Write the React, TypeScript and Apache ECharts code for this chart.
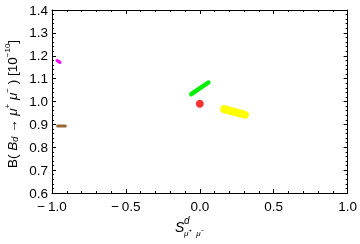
import React, { useEffect, useRef } from "react";
import * as echarts from "echarts";

const xTicks = [-1.0, -0.5, 0.0, 0.5, 1.0];
const yTicks = [0.6, 0.7, 0.8, 0.9, 1.0, 1.1, 1.2, 1.3, 1.4];

const magentaX = [-0.966, -0.946];
const magentaY = [1.179, 1.171];
const brownX = [-0.962, -0.91];
const brownY = [0.893, 0.893];
const greenX = [-0.058, 0.058];
const greenY = [1.032, 1.083];
const yellowX = [0.165, 0.305];
const yellowY = [0.967, 0.942];
const redX = [0.0];
const redY = [0.99];

const zip = (xs: number[], ys: number[]) => xs.map((x, i) => [x, ys[i]]);
const fmt = (v: number) => (v < -1e-9 ? "\u2212\u2009" : "") + Math.abs(v).toFixed(1);
const FONT = "Liberation Sans";

type Piece = { t: string; size: number; italic?: boolean; dy?: number };

let ctx: CanvasRenderingContext2D | null = null;
function measure(p: Piece) {
  if (!ctx) ctx = document.createElement("canvas").getContext("2d");
  if (!ctx) return p.t.length * p.size * 0.55;
  ctx.font = `${p.italic ? "italic " : ""}${p.size}px "${FONT}"`;
  return ctx.measureText(p.t).width;
}

function buildPieces(pieces: Piece[], centered: boolean) {
  const widths = pieces.map(measure);
  const total = widths.reduce((a, b) => a + b, 0);
  let x = centered ? -total / 2 : 0;
  return pieces.map((p, i) => {
    const el = {
      type: "text",
      x,
      y: p.dy || 0,
      style: {
        text: p.t,
        fontFamily: FONT,
        fontSize: p.size,
        fontStyle: p.italic ? "italic" : "normal",
        fill: "#000",
        align: "left",
        verticalAlign: "middle",
      },
    };
    x += widths[i];
    return el;
  });
}

const yLabelPieces: Piece[] = [
  { t: "B( ", size: 13.5 },
  { t: "B", size: 13.5, italic: true },
  { t: "d", size: 9, italic: true, dy: 3 },
  { t: " \u2192 ", size: 13.5 },
  { t: "\u03bc", size: 13.5, italic: true },
  { t: "+", size: 8, dy: -5 },
  { t: " ", size: 13.5 },
  { t: "\u03bc", size: 13.5, italic: true },
  { t: "\u2212", size: 8, dy: -5 },
  { t: " ) [10", size: 13.5 },
  { t: "\u221210", size: 8, dy: -5 },
  { t: "]", size: 13.5 },
];

const xLabelPieces: Piece[] = [{ t: "S", size: 14, italic: true }];
const xSupPieces: Piece[] = [{ t: "d", size: 10, italic: true }];
const xSubPieces: Piece[] = [
  { t: "\u03bc", size: 8, italic: true },
  { t: "+", size: 6, dy: -3 },
  { t: "  ", size: 8 },
  { t: "\u03bc", size: 8, italic: true },
  { t: "\u2212", size: 6, dy: -3 },
];

export default function App() {
  const ref = useRef<HTMLDivElement>(null);
  useEffect(() => {
    if (!ref.current) return;
    const chart = echarts.init(ref.current, undefined, { renderer: "svg" });
    const axisCommon = {
      axisLine: { show: true, onZero: false, lineStyle: { color: "#000", width: 1 } },
      axisTick: { show: true, inside: true, length: 4, lineStyle: { color: "#000" } },
      minorTick: { show: true, splitNumber: 5, length: 2, lineStyle: { color: "#000" } },
      splitLine: { show: false },
    };
    const lineSeries = (xs: number[], ys: number[], color: string, width: number) => ({
      type: "line",
      data: zip(xs, ys),
      showSymbol: false,
      symbol: "none",
      lineStyle: { color, width, cap: "round" },
      silent: true,
    });
    chart.setOption({
      animation: false,
      grid: { left: 52, right: 11, top: 10, bottom: 51 },
      xAxis: [
        {
          type: "value", min: -1, max: 1, interval: 0.5, position: "bottom",
          ...axisCommon,
          axisLabel: { formatter: fmt, color: "#000", fontFamily: FONT, fontSize: 13.5, margin: 6 },
        },
        {
          type: "value", min: -1, max: 1, interval: 0.5, position: "top",
          ...axisCommon, axisLabel: { show: false },
        },
      ],
      yAxis: [
        {
          type: "value", min: 0.6, max: 1.4, interval: 0.1, position: "left",
          ...axisCommon,
          axisLabel: { formatter: fmt, color: "#000", fontFamily: FONT, fontSize: 13.5, margin: 4 },
        },
        {
          type: "value", min: 0.6, max: 1.4, interval: 0.1, position: "right",
          ...axisCommon, axisLabel: { show: false },
        },
      ],
      series: [
        lineSeries(magentaX, magentaY, "#ff00ff", 3),
        lineSeries(brownX, brownY, "#996633", 3),
        lineSeries(greenX, greenY, "#00ee00", 4.5),
        lineSeries(yellowX, yellowY, "#ffff00", 8),
        {
          type: "scatter",
          data: zip(redX, redY),
          symbolSize: 8,
          itemStyle: { color: "#ff0000" },
          silent: true,
        },
      ],
      graphic: [
        {
          type: "group",
          x: 12,
          y: 104,
          rotation: Math.PI / 2,
          children: buildPieces(yLabelPieces, true),
        },
        { type: "group", x: 175, y: 227, children: buildPieces(xLabelPieces, false) },
        { type: "group", x: 184, y: 220, children: buildPieces(xSupPieces, false) },
        { type: "group", x: 184, y: 233, children: buildPieces(xSubPieces, false) },
      ],
    });
    return () => chart.dispose();
  }, []);
  return (
    <div
      ref={ref}
      style={{ position: "fixed", left: 0, top: 0, width: 360, height: 244 }}
    />
  );
}
